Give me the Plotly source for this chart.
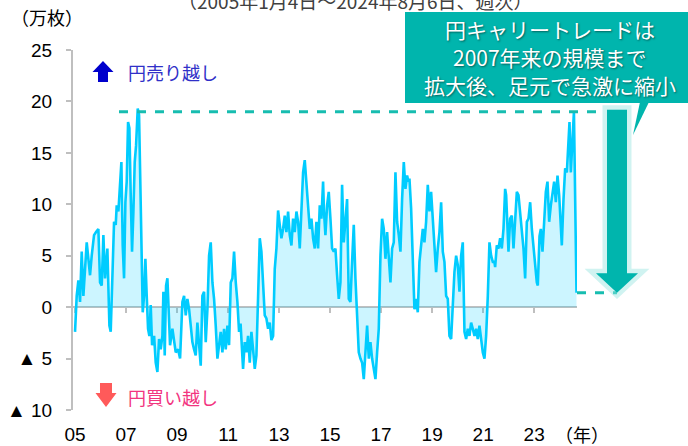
import plotly.graph_objects as go

# ---- data (decimal year, net yen short positions in 10k contracts) ----
years = [
 2005.000, 2005.065, 2005.131, 2005.196, 2005.262, 2005.327, 2005.392, 2005.458, 2005.523, 2005.588,
 2005.654, 2005.745, 2005.824, 2005.915, 2005.980, 2006.046, 2006.111, 2006.177, 2006.268, 2006.347,
 2006.399, 2006.464, 2006.530, 2006.595, 2006.634, 2006.700, 2006.765, 2006.817, 2006.869, 2006.922,
 2006.974, 2007.026, 2007.079, 2007.131, 2007.183, 2007.235, 2007.288, 2007.340, 2007.392, 2007.458,
 2007.510, 2007.549, 2007.601, 2007.654, 2007.706, 2007.758, 2007.810, 2007.863, 2007.915, 2007.967,
 2008.020, 2008.060, 2008.100, 2008.163, 2008.229, 2008.294, 2008.359, 2008.425, 2008.464, 2008.516,
 2008.569, 2008.621, 2008.673, 2008.725, 2008.817, 2008.882, 2008.948, 2009.039, 2009.118, 2009.209,
 2009.275, 2009.340, 2009.405, 2009.471, 2009.536, 2009.601, 2009.667, 2009.732, 2009.797, 2009.863,
 2009.928, 2009.993, 2010.059, 2010.124, 2010.190, 2010.255, 2010.320, 2010.386, 2010.451, 2010.516,
 2010.582, 2010.647, 2010.712, 2010.778, 2010.843, 2010.908, 2010.974, 2011.039, 2011.105, 2011.170,
 2011.235, 2011.301, 2011.366, 2011.431, 2011.490, 2011.588, 2011.653, 2011.719, 2011.784, 2011.850,
 2011.915, 2011.980, 2012.046, 2012.111, 2012.176, 2012.242, 2012.307, 2012.372, 2012.438, 2012.503,
 2012.568, 2012.634, 2012.699, 2012.765, 2012.830, 2012.895, 2012.961, 2013.026, 2013.091, 2013.157,
 2013.222, 2013.287, 2013.353, 2013.418, 2013.484, 2013.549, 2013.614, 2013.680, 2013.745, 2013.810,
 2013.876, 2013.941, 2014.006, 2014.072, 2014.137, 2014.203, 2014.268, 2014.333, 2014.399, 2014.464,
 2014.529, 2014.595, 2014.660, 2014.725, 2014.760, 2014.817, 2014.882, 2014.947, 2015.013, 2015.078,
 2015.144, 2015.209, 2015.274, 2015.340, 2015.405, 2015.470, 2015.536, 2015.601, 2015.666, 2015.732,
 2015.797, 2015.862, 2015.928, 2015.993, 2016.059, 2016.124, 2016.190, 2016.255, 2016.320, 2016.385,
 2016.451, 2016.516, 2016.581, 2016.647, 2016.712, 2016.778, 2016.843, 2016.908, 2016.974, 2017.039,
 2017.104, 2017.170, 2017.235, 2017.300, 2017.366, 2017.431, 2017.497, 2017.562, 2017.627, 2017.693,
 2017.758, 2017.823, 2017.889, 2017.954, 2018.019, 2018.070, 2018.111, 2018.176, 2018.241, 2018.307,
 2018.372, 2018.438, 2018.503, 2018.568, 2018.634, 2018.699, 2018.764, 2018.830, 2018.895, 2018.960,
 2019.026, 2019.091, 2019.156, 2019.222, 2019.287, 2019.353, 2019.418, 2019.483, 2019.549, 2019.614,
 2019.679, 2019.745, 2019.810, 2019.875, 2019.941, 2020.006, 2020.072, 2020.137, 2020.202, 2020.268,
 2020.333, 2020.398, 2020.464, 2020.529, 2020.594, 2020.660, 2020.725, 2020.790, 2020.856, 2020.921,
 2020.987, 2021.052, 2021.117, 2021.183, 2021.248, 2021.313, 2021.379, 2021.440, 2021.471, 2021.536,
 2021.602, 2021.667, 2021.732, 2021.798, 2021.863, 2021.902, 2021.955, 2021.994, 2022.059, 2022.125,
 2022.190, 2022.255, 2022.321, 2022.386, 2022.451, 2022.517, 2022.582, 2022.647, 2022.713, 2022.778,
 2022.844, 2022.909, 2022.974, 2023.040, 2023.105, 2023.144, 2023.210, 2023.262, 2023.327, 2023.393,
 2023.458, 2023.523, 2023.589, 2023.654, 2023.719, 2023.785, 2023.850, 2023.916, 2023.981, 2024.046,
 2024.085, 2024.151, 2024.216, 2024.282, 2024.347, 2024.386, 2024.438, 2024.491, 2024.560, 2024.660,
]
positions = [
 -2.4, 1.1, 2.6, 0.5, 5.4, 1.1, 3.7, 6.3, 4.7, 3.1,
 5.0, 7.0, 7.3, 7.6, 2.4, 2.1, 7.0, 2.8, 5.7, -1.8,
 -2.4, 4.1, 8.3, 8.0, 9.9, 9.3, 11.5, 14.1, 6.0, 2.8,
 10.2, 12.2, 18.0, 17.4, 10.9, 5.4, 9.3, 14.1, 15.7, 19.3,
 18.7, 12.8, 5.7, -0.5, 1.1, 4.7, 1.1, -2.1, -2.8, 0.2,
 -3.7, -3.0, -2.8, -5.4, -6.3, -3.1, -4.1, -2.8, 1.5, -4.7,
 2.1, 2.8, -1.5, -3.7, -2.1, -3.1, -4.4, -4.1, -5.0, 0.5,
 1.1, -0.8, 0.8, -0.2, -2.1, -3.4, -4.1, -4.7, -1.5, -3.7,
 -5.7, 1.1, 1.5, -3.4, -0.2, 5.0, 6.3, 2.4, 0.8, -1.8,
 -5.0, -3.7, -2.4, -4.4, -2.1, -4.1, -1.8, -3.7, 2.4, 2.8,
 5.4, 2.4, 0.5, -2.4, -1.6, -6.0, -3.4, -4.4, -2.8, -5.4,
 -2.4, -4.1, -6.0, -4.7, 2.4, 6.7, 5.4, 2.4, -0.8, -1.1,
 -2.1, -1.5, -3.2, -2.8, 3.7, 5.7, 9.4, 8.0, 6.7, 7.6,
 8.9, 7.3, 9.3, 7.0, 6.0, 8.6, 7.3, 9.3, 8.3, 5.7,
 10.2, 13.1, 14.3, 12.2, 9.6, 7.6, 8.6, 6.7, 5.7, 8.3,
 5.7, 9.9, 8.6, 12.2, 9.3, 7.0, 9.9, 11.2, 8.6, 5.7,
 5.4, 5.7, 3.1, 0.8, 2.4, 11.9, 6.3, 8.9, 10.5, 0.8,
 0.5, 4.4, 8.0, 2.8, -1.5, -4.4, -5.0, -5.4, -7.0, -4.7,
 -1.8, -5.0, -3.4, -5.0, -6.0, -7.0, -4.4, -2.1, 5.0, 8.6,
 7.6, 4.7, 7.3, 5.0, 2.4, 5.7, 6.3, 13.1, 8.3, 7.0,
 5.4, 10.5, 14.1, 11.5, 12.8, 12.2, 12.5, 9.6, 3.7, -0.2,
 0.8, -0.5, 4.4, 6.0, 7.6, 6.3, 8.3, 11.9, 9.3, 11.2,
 8.6, 5.0, 3.4, 5.7, 7.3, 10.2, 5.4, 4.4, 1.1, 0.8,
 -2.8, -3.1, 1.1, 3.4, 5.0, 4.1, 1.5, 5.0, 6.3, -2.4,
 -3.1, -2.1, -2.8, -1.5, -2.1, -2.8, -2.1, -3.1, -1.8, -3.4,
 -4.4, -5.0, -2.8, 1.1, 6.3, 5.0, 4.4, 4.4, 3.9, 6.0,
 5.7, 6.7, 5.7, 7.6, 11.5, 10.9, 7.0, 5.4, 8.6, 8.9,
 5.7, 8.3, 11.2, 10.9, 9.3, 8.0, 5.7, 2.8, 8.3, 8.6,
 10.2, 7.6, 5.7, 4.1, 2.4, 2.1, 6.9, 7.6, 5.4, 8.3,
 11.2, 12.2, 8.3, 9.9, 10.9, 12.2, 10.2, 12.8, 10.9, 7.6,
 6.0, 10.5, 13.5, 13.1, 16.4, 18.0, 13.1, 16.1, 19.0, 1.4,
]

x_tick_vals = [2005, 2007, 2009, 2011, 2013, 2015, 2017, 2019, 2021, 2023]
x_tick_text = ["05", "07", "09", "11", "13", "15", "17", "19", "21", "23"]
y_tick_vals = [-10, -5, 0, 5, 10, 15, 20, 25]
y_tick_text = ["▲ 10", "▲ 5", "0", "5", "10", "15", "20", "25"]

title_text = "（2005年1月4日～2024年8月6日、週次）"
unit_text = "（万枚）"
year_unit_text = "（年）"
sell_text = "円売り越し"
buy_text = "円買い越し"
callout_lines = ["円キャリートレードは", "2007年来の規模まで", "拡大後、足元で急激に縮小"]

# ---- geometry helpers (plot area in pixels) ----
W, H = 688, 446
L, R, T, B = 73, 577, 50, 410
Y_MIN, Y_MAX = -10, 25


def P(px, py):
    return (px - L) / (R - L), (B - py) / (B - T)


def yv(v):
    return (v - Y_MIN) / (Y_MAX - Y_MIN)


def path(points):
    pts = [P(x, y) for x, y in points]
    return "M " + " L ".join(f"{a:.5f},{b:.5f}" for a, b in pts) + " Z"


def path_mixed(points):
    # points: (px, data value)
    pts = [((x - L) / (R - L), yv(v)) for x, v in points]
    return "M " + " L ".join(f"{a:.5f},{b:.5f}" for a, b in pts) + " Z"


LINE = "#00CCFF"
TEAL = "#00B5AD"
DASH = "#17BDB0"
GRAY = "#BFBFBF"
FONT = "Arial, Liberation Sans, Noto Sans CJK JP, sans-serif"
JFONT = "Noto Sans CJK JP, sans-serif"

fig = go.Figure()
fig.add_trace(go.Scatter(
    x=years, y=positions, mode="lines",
    line=dict(color=LINE, width=2.6),
    fill="tozeroy", fillcolor="rgba(0,204,255,0.2)",
    hoverinfo="skip", showlegend=False,
))
# dummy trace for the zero-level axis
fig.add_trace(go.Scatter(x=[years[0]], y=[0], xaxis="x2", mode="lines",
                         opacity=0, showlegend=False, hoverinfo="skip"))

peak_2024 = max(v for y, v in zip(years, positions) if y > 2024)
last_val = positions[-1]

shapes = []
# top dashed line (peak level)
shapes.append(dict(type="line", xref="paper", yref="paper",
                   x0=P(119, 0)[0], x1=P(600, 0)[0], y0=yv(peak_2024), y1=yv(peak_2024),
                   line=dict(color=DASH, width=3, dash="dash")))
# lower dashed line (latest level)
shapes.append(dict(type="line", xref="paper", yref="paper",
                   x0=1.0, x1=P(617, 0)[0], y0=yv(last_val), y1=yv(last_val),
                   line=dict(color=DASH, width=3, dash="dash")))
# big down arrow with glow
arrow_pts = [(607, peak_2024 + 0.2), (627, peak_2024 + 0.2), (627, last_val + 1.9),
             (638, last_val + 1.9), (617, last_val), (596, last_val + 1.9),
             (607, last_val + 1.9)]
shapes.append(dict(type="path", xref="paper", yref="paper", path=path_mixed(arrow_pts),
                   fillcolor="rgba(120,220,215,0.35)", line=dict(color="rgba(150,228,224,0.45)", width=9),
                   layer="above"))
shapes.append(dict(type="path", xref="paper", yref="paper", path=path_mixed(arrow_pts),
                   fillcolor=TEAL, line=dict(width=0), layer="above"))
# callout box
bx0, by0 = P(405, 103)
bx1, by1 = P(700, 12)
shapes.append(dict(type="rect", xref="paper", yref="paper", x0=bx0, x1=bx1, y0=by0, y1=by1,
                   fillcolor=TEAL, line=dict(width=0), layer="above"))
shapes.append(dict(type="path", xref="paper", yref="paper",
                   path=path([(640, 102), (649, 102), (633, 135)]),
                   fillcolor=TEAL, line=dict(width=0), layer="above"))
# small direction arrows
shapes.append(dict(type="path", xref="paper", yref="paper",
                   path=path([(103, 61), (113.5, 72), (108, 72), (108, 82), (98, 82), (98, 72), (92.5, 72)]),
                   fillcolor="#0000CC", line=dict(width=0)))
shapes.append(dict(type="path", xref="paper", yref="paper",
                   path=path([(100, 383), (112, 383), (112, 393), (116.5, 393), (106, 407), (95.5, 393), (100, 393)]),
                   fillcolor="#FF5A5A", line=dict(width=0)))

annotations = []
tx, ty = P(355, 0)
annotations.append(dict(text=title_text, x=tx, y=ty, xref="paper", yref="paper",
                        xanchor="center", yanchor="middle", showarrow=False,
                        font=dict(family=JFONT, size=19, color="#404040")))
ux, uy = P(47, 17)
annotations.append(dict(text=unit_text, x=ux, y=uy, xref="paper", yref="paper",
                        xanchor="center", yanchor="middle", showarrow=False,
                        font=dict(family=JFONT, size=18, color="#000000")))
nx, ny = P(582, 434)
annotations.append(dict(text=year_unit_text, x=nx, y=ny, xref="paper", yref="paper",
                        xanchor="center", yanchor="middle", showarrow=False,
                        font=dict(family=JFONT, size=18, color="#000000")))
sx, sy = P(126, 72)
annotations.append(dict(text=sell_text, x=sx, y=sy, xref="paper", yref="paper",
                        xanchor="left", yanchor="middle", showarrow=False,
                        font=dict(family=JFONT, size=18, color="#3030C8")))
bx, byy = P(126, 397)
annotations.append(dict(text=buy_text, x=bx, y=byy, xref="paper", yref="paper",
                        xanchor="left", yanchor="middle", showarrow=False,
                        font=dict(family=JFONT, size=18, color="#F2357F")))
for i, line_text in enumerate(callout_lines):
    cx, cy = P(550, 29 + 28 * i)
    annotations.append(dict(text=line_text, x=cx, y=cy, xref="paper", yref="paper",
                            xanchor="center", yanchor="middle", showarrow=False,
                            font=dict(family=JFONT, size=21, color="#FFFFFF",
                                      shadow="1px 1px 2px #00605A")))

fig.update_layout(
    width=W, height=H, autosize=False,
    margin=dict(l=L, r=W - R, t=T, b=H - B, pad=0, autoexpand=False),
    paper_bgcolor="white", plot_bgcolor="white",
    showlegend=False,
    font=dict(family=FONT, size=19, color="#000000"),
    xaxis=dict(range=[2004.92, 2024.68], tickvals=x_tick_vals, ticktext=x_tick_text,
               showline=False, showgrid=False, zeroline=False, ticks="", automargin=False,
               ticklabelstandoff=11, tickfont=dict(family=FONT, size=19, color="#000")),
    xaxis2=dict(overlaying="x", matches="x", anchor="free", position=yv(0), side="bottom",
                showline=True, linecolor=GRAY, linewidth=2, ticks="outside", ticklen=5,
                tickwidth=1.5, tickcolor=GRAY, tickvals=x_tick_vals, showticklabels=False,
                showgrid=False, zeroline=False, layer="below traces", automargin=False),
    yaxis=dict(range=[Y_MIN, Y_MAX], tickvals=y_tick_vals, ticktext=y_tick_text,
               showline=True, linecolor=GRAY, linewidth=2, ticks="outside", ticklen=5,
               tickwidth=1.5, tickcolor=GRAY, showgrid=False, zeroline=False, automargin=False,
               ticklabelstandoff=10, tickfont=dict(family=FONT, size=19, color="#000")),
    shapes=shapes, annotations=annotations,
)

fig.write_html("out.html", config={"displayModeBar": False},
               post_script="document.body.style.margin='0';")
